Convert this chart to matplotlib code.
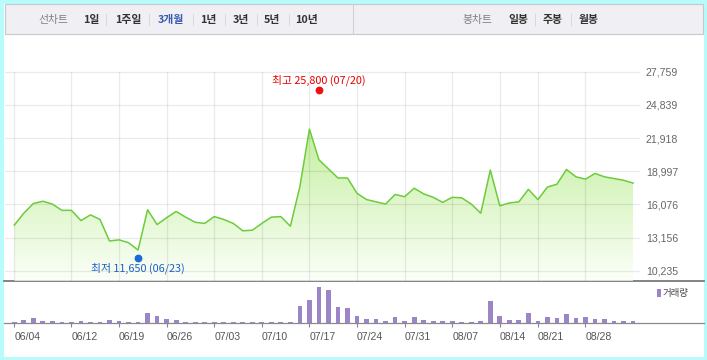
import matplotlib
matplotlib.use("Agg")
import matplotlib.pyplot as plt
import numpy as np
from matplotlib.patches import Rectangle, Polygon
from matplotlib.colors import LinearSegmentedColormap
from matplotlib.transforms import offset_copy

# daily closing price (KRW), one value per trading day from 06/04
close = [14250, 15300, 16150, 16350, 16100, 15550, 15550, 14650, 15150, 14750,
         12850, 12950, 12700, 12050, 15600, 14300, 14900, 15450, 14950, 14500,
         14400, 15000, 14750, 14400, 13750, 13800, 14400, 14950, 15000, 14150,
         17650, 22700, 20000, 19200, 18400, 18400, 17050, 16500, 16300, 16100,
         16950, 16750, 17500, 17000, 16700, 16250, 16700, 16650, 16100, 15300,
         19100, 15950, 16200, 16300, 17400, 16500, 17600, 17850, 19150, 18500,
         18300, 18800, 18500, 18350, 18200, 17950]

# daily volume (thousand shares)
volume = [55, 165, 270, 120, 115, 60, 50, 110, 60, 55,
          170, 115, 60, 55, 560, 390, 220, 165, 50, 45,
          55, 50, 45, 55, 50, 45, 50, 55, 50, 45,
          940, 1270, 1980, 1820, 880, 830, 390, 220, 225, 115,
          330, 110, 335, 165, 110, 115, 110, 55, 60, 115,
          1210, 390, 165, 170, 550, 115, 330, 275, 495, 280,
          330, 220, 225, 110, 115, 110]

date_ticks = [0, 6, 11, 16, 21, 26, 31, 36, 41, 46, 51, 55, 60]
date_labels = ["06/04", "06/12", "06/19", "06/26", "07/03", "07/10", "07/17",
               "07/24", "07/31", "08/07", "08/14", "08/21", "08/28"]

price_ticks = [10235, 13156, 16076, 18997, 21918, 24839, 27759]

hi_idx, hi_val, hi_label = 32, 25800, "최고 25,800 (07/20)"
lo_idx, lo_val, lo_label = 13, 11650, "최저 11,650 (06/23)"

left_menu = ["선차트", "1일", "1주일", "3개월", "1년", "3년", "5년", "10년"]
right_menu = ["봉차트", "일봉", "주봉", "월봉"]

W, H = 707, 360
KR = ["Noto Sans CJK KR", "DejaVu Sans"]
NUM = "Liberation Sans"

fig = plt.figure(figsize=(W / 100, H / 100), dpi=100)
fig.patch.set_facecolor("#b8fbfb")

# background / frame drawn in pixel coordinates
bg = fig.add_axes([0, 0, 1, 1], zorder=-1)
bg.set_xlim(0, W)
bg.set_ylim(H, 0)
bg.axis("off")
bg.add_patch(Rectangle((3.5, 3.5), 700, 353, facecolor="white", edgecolor="none"))
bg.add_patch(Rectangle((5, 4), 697.5, 30, facecolor="#f0f0f4", edgecolor="#c8c8cc", lw=0.8))
bg.plot([353, 353], [4, 34], color="#d0d0d4", lw=0.7)

# header menu
left_x = [53, 91.5, 128, 171, 208, 240.5, 272, 306.5]
for i, (lab, x) in enumerate(zip(left_menu, left_x)):
    if i == 0:
        col, wt = "#808080", "normal"
    elif lab == "3개월":
        col, wt = "#3a5bb0", "bold"
    else:
        col, wt = "#333333", "bold"
    bg.text(x, 19.5, lab, ha="center", va="center", fontsize=7.8, color=col,
            fontweight=wt, family=KR)
for x in [106, 149, 192.5, 225, 256.5, 288.5]:
    bg.plot([x, x], [13.5, 25], color="#d8d8dc", lw=0.7)
right_x = [477, 518.5, 552.5, 588.5]
for i, (lab, x) in enumerate(zip(right_menu, right_x)):
    col, wt = ("#808080", "normal") if i == 0 else ("#333333", "bold")
    bg.text(x, 19.5, lab, ha="center", va="center", fontsize=7.8, color=col,
            fontweight=wt, family=KR)
for x in [534.5, 571]:
    bg.plot([x, x], [13.5, 25], color="#d8d8dc", lw=0.7)

# separator between price and volume, volume baseline
bg.plot([3.5, 703.5], [280.7, 280.7], color="#7a7a7e", lw=1.3)
bg.plot([3.5, 703.5], [323.2, 323.2], color="#8a8a8e", lw=0.9)

# legend for volume
bg.add_patch(Rectangle((657.3, 289.3), 3.6, 7.4, facecolor="#9b85c6", edgecolor="none"))
bg.text(663, 293.2, "거래량", ha="left", va="center", fontsize=6.8, color="#444444", family=KR)

# ---- price panel ----
x = np.arange(len(close))
xl = ((5 - 14.3) / 9.52, (639 - 14.3) / 9.52)
ybot = 9354

ax = fig.add_axes([5 / W, 1 - 280.7 / H, 634 / W, 209 / H])
ax.patch.set_alpha(0)
ax.set_xlim(*xl)
ax.set_ylim(ybot, 27759)
for s in ax.spines.values():
    s.set_visible(False)

# gridlines sit over the green fill, under the price line
for t in price_ticks:
    ax.axhline(t, color=(0, 0, 0, 0.08), lw=0.9, zorder=2, clip_on=False)
for t in date_ticks:
    ax.axvline(t, color=(0, 0, 0, 0.08), lw=0.9, zorder=2)

grad = LinearSegmentedColormap.from_list("g", ["#fbfff8", "#c2ee9c"])
im = ax.imshow(np.linspace(0, 1, 256).reshape(-1, 1), cmap=grad, aspect="auto",
               origin="lower", extent=[x[0], x[-1], ybot, 23500], zorder=1)
poly = Polygon([(x[0], ybot)] + list(zip(x, close)) + [(x[-1], ybot)],
               closed=True, facecolor="none", edgecolor="none", transform=ax.transData)
ax.add_patch(poly)
im.set_clip_path(poly)
ax.plot(x, close, color="#6ccc3c", lw=1.1, zorder=3)

ax.yaxis.tick_right()
ax.set_yticks(price_ticks)
ax.set_yticklabels([f"{t:,}" for t in price_ticks], fontsize=7.6, color="#666666", family=NUM)
ax.tick_params(axis="y", length=0, pad=5)
ax.set_xticks([])

# high / low markers
hi_tr = offset_copy(ax.transData, fig=fig, y=3.5, units="dots")
lo_tr = offset_copy(ax.transData, fig=fig, y=-3, units="dots")
ax.plot([hi_idx], [hi_val], "o", color="#ee1111", ms=4.6, transform=hi_tr, zorder=4, clip_on=False)
ax.plot([lo_idx], [lo_val], "o", color="#1a6ad8", ms=4.6, transform=lo_tr, zorder=4, clip_on=False)
ax.annotate(hi_label, (hi_idx, hi_val), xytext=(0, 13.5), textcoords="offset pixels",
            ha="center", va="center", fontsize=7.8, color="#e60000", family=KR)
ax.annotate(lo_label, (lo_idx, lo_val), xytext=(0, -13.5), textcoords="offset pixels",
            ha="center", va="center", fontsize=7.8, color="#1a5fc8", family=KR)

# ---- volume panel ----
axv = fig.add_axes([5 / W, 1 - 323.2 / H, 634 / W, 42.5 / H])
axv.patch.set_alpha(0)
axv.set_xlim(*xl)
axv.set_ylim(0, max(volume) * 42.5 / 36)
axv.bar(x, volume, width=0.5, color="#9b85c6", zorder=2)
for s in axv.spines.values():
    s.set_visible(False)
axv.set_yticks([])
axv.set_xticks(date_ticks)
axv.set_xticklabels(date_labels, fontsize=7.6, color="#555555", family=NUM, ha="left")
axv.tick_params(axis="x", length=3.2, width=0.8, color="#888888", pad=3)

fig.savefig("out.png", dpi=100, facecolor=fig.get_facecolor())
